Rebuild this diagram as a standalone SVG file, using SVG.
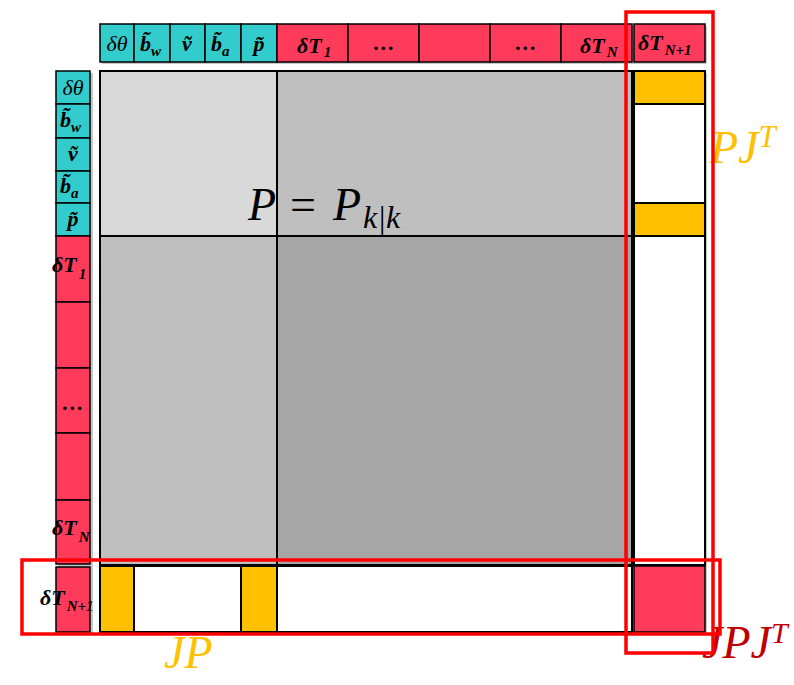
<svg xmlns="http://www.w3.org/2000/svg" width="794" height="685" viewBox="0 0 794 685">
<style>
.c{fill:#33cccc;stroke:#000;stroke-width:1.5}
.r{fill:#ff3b5c;stroke:#000;stroke-width:1.5}
.o{fill:#ffc000;stroke:#000;stroke-width:2}
.w{fill:#fff;stroke:#000;stroke-width:2}
.sh{fill:#c8c8c8}
.t{font-family:"Liberation Serif",serif;font-style:italic;font-weight:bold;font-size:22px;fill:#000}
.n{font-weight:normal}
.s{font-size:15px}
.m{text-anchor:middle}
.big{font-family:"Liberation Serif",serif;font-style:italic;font-size:46px}
.frame{fill:none;stroke:#ff0000;stroke-width:3.5}
</style>
<rect width="794" height="685" fill="#fff"/>
<rect class="sh" x="102" y="26" width="605" height="38"/>
<rect class="sh" x="58" y="73" width="35" height="561"/>
<rect class="sh" x="102" y="73" width="605" height="561"/>
<g id="header">
  <rect class="c" x="100" y="24" width="34" height="38"/>
  <rect class="c" x="134" y="24" width="36" height="38"/>
  <rect class="c" x="170" y="24" width="35" height="38"/>
  <rect class="c" x="205" y="24" width="36" height="38"/>
  <rect class="c" x="241" y="24" width="36" height="38"/>
  <rect class="r" x="277" y="24" width="71" height="38"/>
  <rect class="r" x="348" y="24" width="71" height="38"/>
  <rect class="r" x="419" y="24" width="71" height="38"/>
  <rect class="r" x="490" y="24" width="71" height="38"/>
  <rect class="r" x="561" y="24" width="71" height="38"/>
  <rect class="r" x="634" y="24" width="71" height="38"/>
  <text class="t n m" x="117" y="51">δθ</text>
  <text class="t" x="140" y="51">b̃<tspan class="s" dy="5">w</tspan></text>
  <text class="t m" x="187" y="51">ṽ</text>
  <text class="t" x="211" y="51">b̃<tspan class="s" dy="5">a</tspan></text>
  <text class="t m" x="259" y="51">p̃</text>
  <text class="t" x="297" y="53">δT<tspan class="s" dx="2" dy="4">1</tspan></text>
  <text class="t m" x="384" y="50">…</text>
  <text class="t m" x="526" y="50">…</text>
  <text class="t" x="580" y="53">δT<tspan class="s" dx="2" dy="4">N</tspan></text>
  <text class="t" x="638" y="50">δT<tspan class="s" dx="2" dy="5">N+1</tspan></text>
</g>
<g id="rowheader">
  <rect class="c" x="56" y="71" width="34" height="33"/>
  <rect class="c" x="56" y="104" width="34" height="34"/>
  <rect class="c" x="56" y="138" width="34" height="33"/>
  <rect class="c" x="56" y="171" width="34" height="32"/>
  <rect class="c" x="56" y="203" width="34" height="33"/>
  <rect class="r" x="56" y="236" width="34" height="66"/>
  <rect class="r" x="56" y="302" width="34" height="66"/>
  <rect class="r" x="56" y="368" width="34" height="65"/>
  <rect class="r" x="56" y="433" width="34" height="67"/>
  <rect class="r" x="56" y="500" width="34" height="64"/>
  <rect class="r" x="56" y="567" width="34" height="65"/>
  <text class="t n m" x="73" y="95">δθ</text>
  <text class="t" x="60" y="127">b̃<tspan class="s" dy="5">w</tspan></text>
  <text class="t m" x="73" y="161">ṽ</text>
  <text class="t" x="60" y="193">b̃<tspan class="s" dy="5">a</tspan></text>
  <text class="t m" x="73" y="226">p̃</text>
  <text class="t" x="52" y="272">δT<tspan class="s" dx="2" dy="7">1</tspan></text>
  <text class="t m" x="73" y="410">…</text>
  <text class="t" x="52" y="535">δT<tspan class="s" dx="2" dy="7">N</tspan></text>
  <text class="t" x="40" y="605">δT<tspan class="s" dx="2" dy="6">N+1</tspan></text>
</g>
<g id="P">
  <rect x="100" y="71" width="177" height="165" fill="#d9d9d9" stroke="#000" stroke-width="2"/>
  <rect x="277" y="71" width="355" height="165" fill="#bfbfbf" stroke="#000" stroke-width="2"/>
  <rect x="100" y="236" width="177" height="329" fill="#bfbfbf" stroke="#000" stroke-width="2"/>
  <rect x="277" y="236" width="355" height="329" fill="#a6a6a6" stroke="#000" stroke-width="2"/>
  <text class="big" x="248" y="220">P<tspan x="290" font-style="normal">=</tspan><tspan x="333">P</tspan><tspan font-size="32" dx="2" dy="8">k|k</tspan></text>
</g>
<g id="PJT">
  <rect class="o" x="634" y="71" width="71" height="33"/>
  <rect class="w" x="634" y="104" width="71" height="99"/>
  <rect class="o" x="634" y="203" width="71" height="33"/>
  <rect class="w" x="634" y="236" width="71" height="329"/>
  <text class="big" x="710" y="163" font-size="44" fill="#ffc000">PJ<tspan font-size="31" dy="-16">T</tspan></text>
</g>
<g id="JP">
  <rect class="o" x="100" y="566" width="34" height="66"/>
  <rect class="w" x="134" y="566" width="107" height="66"/>
  <rect class="o" x="241" y="566" width="36" height="66"/>
  <rect class="w" x="277" y="566" width="355" height="66"/>
  <text class="big" x="164" y="668" font-size="44" fill="#ffc000">JP</text>
</g>
<g id="JPJT">
  <rect class="r" x="634" y="566" width="71" height="66" stroke-width="2"/>
  <text class="big" x="702" y="658" font-size="42" fill="#c00000">JPJ<tspan font-size="30" dy="-15">T</tspan></text>
</g>
<g id="frames">
  <rect class="frame" x="626" y="12" width="87" height="641"/>
  <rect class="frame" x="22" y="560" width="698" height="74"/>
</g>
</svg>
